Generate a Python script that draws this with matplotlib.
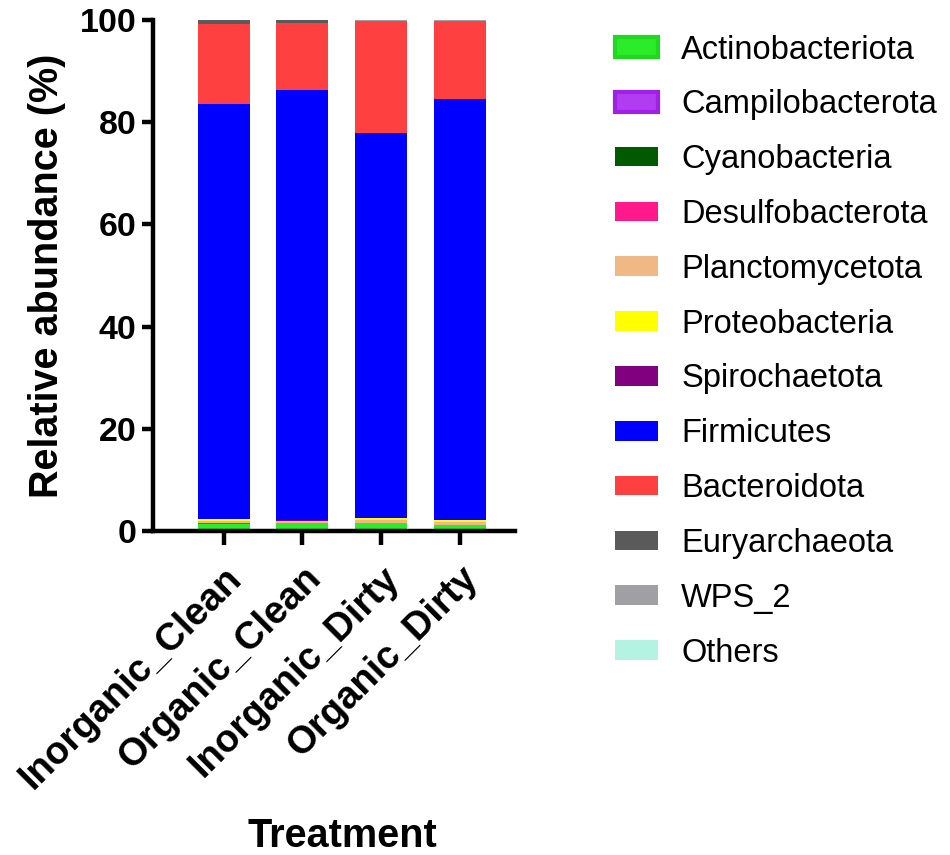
import numpy as np
import matplotlib
matplotlib.use('Agg')
import matplotlib.pyplot as plt

# ——— data (percent relative abundance) ———
treatments = ['Inorganic_Clean', 'Organic_Clean', 'Inorganic_Dirty', 'Organic_Dirty']
taxa = ['Actinobacteriota', 'Campilobacterota', 'Cyanobacteria', 'Desulfobacterota',
        'Planctomycetota', 'Proteobacteria', 'Spirochaetota', 'Firmicutes',
        'Bacteroidota', 'Euryarchaeota', 'WPS_2', 'Others']

actinobacteriota = [1.4, 1.5, 1.5, 1.1]
campilobacterota = [0.02, 0.02, 0.02, 0.02]
cyanobacteria = [0.02, 0.02, 0.02, 0.02]
desulfobacterota = [0.05, 0.1, 0.03, 0.03]
planctomycetota = [0.5, 0.3, 0.5, 0.5]
proteobacteria = [0.4, 0.1, 0.4, 0.4]
spirochaetota = [0.02, 0.02, 0.02, 0.02]
firmicutes = [81.2, 84.2, 75.3, 82.4]
bacteroidota = [15.7, 13.1, 22.0, 15.3]
euryarchaeota = [0.6, 0.55, 0.1, 0.1]
wps_2 = [0.05, 0.05, 0.05, 0.05]
others = [0.05, 0.04, 0.06, 0.05]

series = [actinobacteriota, campilobacterota, cyanobacteria, desulfobacterota,
          planctomycetota, proteobacteria, spirochaetota, firmicutes,
          bacteroidota, euryarchaeota, wps_2, others]

colors = ['#2BEB2B', '#B23CF0', '#005A00', '#FF1A8C', '#F0B884', '#FFFF00',
          '#800080', '#0000FF', '#FF4040', '#5A5A5A', '#A0A0A4', '#B4F2E2']
edges = ['#1FD81F', '#A020E6', '#005A00', '#FF1A8C', '#F0B884', '#FFFF00',
         '#800080', '#0000FF', '#FF4040', '#5A5A5A', '#A0A0A4', '#B4F2E2']

plt.rcParams.update({
    'font.family': ['Liberation Sans', 'DejaVu Sans'],
    'font.weight': 'bold',
    'axes.linewidth': 3.2,
    'xtick.major.width': 3.2,
    'ytick.major.width': 3.2,
    'xtick.major.size': 10,
    'ytick.major.size': 8,
})

fig = plt.figure(figsize=(9.5, 8.55), dpi=100)
ax = fig.add_axes([0.161, 0.379, 0.381, 0.5976])

x = np.arange(len(treatments))
bottom = np.zeros(len(treatments))
handles = []
for name, vals, fc, ec in zip(taxa, series, colors, edges):
    ax.bar(x, vals, width=0.66, bottom=bottom, color=fc,
           edgecolor='none', label=name, zorder=2)
    bottom += np.array(vals)
    handles.append(plt.Rectangle((0, 0), 1, 1, facecolor=fc, edgecolor=ec,
                                 linewidth=3 if name in ('Actinobacteriota', 'Campilobacterota') else 0))

ax.set_xlim(-0.9, 3.7)
ax.set_ylim(0, 100)
ax.set_yticks([0, 20, 40, 60, 80, 100])
ax.set_xticks(x)
ax.set_xticklabels(treatments, rotation=45, ha='right', rotation_mode='anchor',
                   fontsize=27.5, fontweight='bold')
ax.tick_params(axis='y', labelsize=24.5, pad=4)
ax.tick_params(axis='x', pad=11)
for lab in ax.get_yticklabels():
    lab.set_fontweight('bold')

ax.spines['top'].set_visible(False)
ax.spines['right'].set_visible(False)

ax.set_ylabel('Relative abundance (%)', fontsize=28.5, fontweight='bold', labelpad=10)
fig.text(0.36, 1 - 836 / 855, 'Treatment', fontsize=28.5, fontweight='bold',
         ha='center', va='center')

leg = fig.legend(handles, taxa, loc='upper left', bbox_to_anchor=(0.616, 0.994),
                 frameon=False, fontsize=23.5, handlelength=1.32, handleheight=0.55,
                 handletextpad=0.72, labelspacing=0.73)
for t in leg.get_texts():
    t.set_fontweight('normal')

fig.savefig('out.png', dpi=100, facecolor='white')
